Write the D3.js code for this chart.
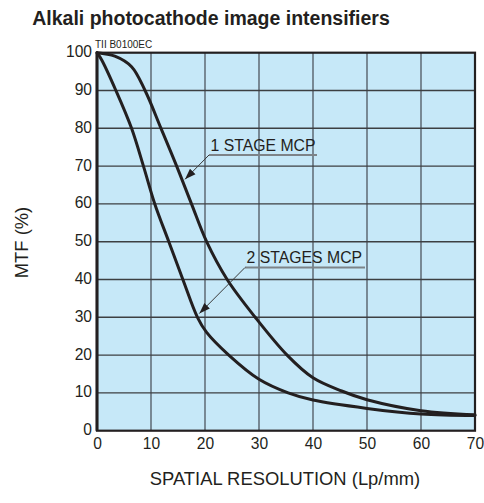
<!DOCTYPE html>
<html>
<head>
<meta charset="utf-8">
<script src="https://cdn.jsdelivr.net/npm/d3@7"></script>
<style>
  html, body { margin: 0; padding: 0; background: #fff; }
  svg { display: block; font-family: "Liberation Sans", Arial, Helvetica, sans-serif; }
</style>
</head>
<body>
<svg id="chart" width="484" height="503"></svg>
<script>
// MTF curves of alkali photocathode image intensifiers
const xTicks = [0, 10, 20, 30, 40, 50, 60, 70];
const yTicks = [0, 10, 20, 30, 40, 50, 60, 70, 80, 90, 100];

const oneStageRes = [0, 3.3, 6.4, 8.9, 11.85, 14.75, 17.5, 20.3, 24.1, 29.3, 35.2, 40, 45.3, 50, 60, 70];
const oneStageMtf = [100, 99.1, 96.3, 90, 80, 70, 60, 50, 40, 30, 20, 14, 10.5, 8.2, 5.3, 4.2];

const twoStageRes = [0, 0.9, 3.5, 6.4, 8.6, 10.7, 13.3, 15.9, 18.6, 20.3, 24.4, 30, 35.4, 40, 50, 60, 70];
const twoStageMtf = [100, 98, 90, 80, 70, 60, 50, 40, 30, 26, 20, 13.6, 10, 8.1, 5.9, 4.4, 4.0];

const seriesLabels = ["1 STAGE MCP", "2 STAGES MCP"];

const svg = d3.select("#chart");
const plotL = 97, plotR = 475, plotT = 52.7, plotB = 430.7;

const x = d3.scaleLinear().domain([0, 70]).range([plotL, plotR]);
const y = d3.scaleLinear().domain([0, 100]).range([plotB, plotT]);

// plot background
svg.append("rect")
  .attr("x", plotL).attr("y", plotT)
  .attr("width", plotR - plotL).attr("height", plotB - plotT)
  .attr("fill", "#c6e8f8");

// grid
const grid = svg.append("g");
grid.selectAll("line.v").data(xTicks.slice(1, -1)).join("line")
  .attr("x1", d => x(d)).attr("x2", d => x(d))
  .attr("y1", plotT).attr("y2", plotB)
  .attr("stroke", "#56606a").attr("stroke-width", 1.4);
grid.selectAll("line.h").data(yTicks.slice(1, -1)).join("line")
  .attr("x1", plotL).attr("x2", plotR)
  .attr("y1", d => y(d)).attr("y2", d => y(d))
  .attr("stroke", "#3c3f42").attr("stroke-width", 1.4);

// frame
svg.append("rect")
  .attr("x", plotL).attr("y", plotT)
  .attr("width", plotR - plotL).attr("height", plotB - plotT)
  .attr("fill", "none").attr("stroke", "#231f20").attr("stroke-width", 2.2);
svg.append("line").attr("x1", plotL).attr("x2", plotL).attr("y1", plotT).attr("y2", plotB)
  .attr("stroke", "#231f20").attr("stroke-width", 3);

// axes (labels only)
const xAxis = d3.axisBottom(x).tickValues(xTicks).tickSize(0).tickPadding(7);
const gx = svg.append("g").attr("transform", `translate(0,${plotB})`).call(xAxis);
gx.select(".domain").remove();
gx.selectAll("text").attr("font-size", 15.6).attr("fill", "#231f20")
  .attr("font-family", "Liberation Sans, Arial, sans-serif");

const yAxis = d3.axisLeft(y).tickValues(yTicks).tickSize(0).tickPadding(5);
const gy = svg.append("g").attr("transform", `translate(${plotL},0)`).call(yAxis);
gy.select(".domain").remove();
gy.selectAll("text").attr("font-size", 15.6).attr("fill", "#231f20")
  .attr("font-family", "Liberation Sans, Arial, sans-serif")
  .attr("dy", "0.25em");

// curves
const line = d3.line().x(d => x(d[0])).y(d => y(d[1])).curve(d3.curveCatmullRom.alpha(0.5));
const series = [
  d3.zip(oneStageRes, oneStageMtf),
  d3.zip(twoStageRes, twoStageMtf)
];
svg.append("g").selectAll("path").data(series).join("path")
  .attr("d", line)
  .attr("fill", "none").attr("stroke", "#231f20").attr("stroke-width", 3)
  .attr("stroke-linecap", "round");

// arrow markers
svg.append("defs").append("marker")
  .attr("id", "head").attr("viewBox", "0 0 10 10")
  .attr("refX", 10).attr("refY", 5)
  .attr("markerWidth", 11).attr("markerHeight", 11)
  .attr("markerUnits", "userSpaceOnUse")
  .attr("orient", "auto")
  .append("path").attr("d", "M0,1.5 L10,5 L0,8.5 Z").attr("fill", "#231f20");

// callouts: label position, underline and arrow tip on the curve
const callouts = [
  { label: seriesLabels[0], tx: 210.5, ty: 150.5, uy: 155, ux2: 317, tipX: x(16.3), tipY: y(66.5) },
  { label: seriesLabels[1], tx: 246.5, ty: 263, uy: 267.5, ux2: 365, tipX: x(18.95), tipY: y(31) }
];
const cg = svg.append("g");
callouts.forEach(c => {
  cg.append("text").attr("x", c.tx).attr("y", c.ty)
    .attr("font-size", 15.8).attr("fill", "#231f20").text(c.label);
  cg.append("line").attr("x1", c.tx - 1.5).attr("x2", c.ux2)
    .attr("y1", c.uy).attr("y2", c.uy)
    .attr("stroke", "#7d8388").attr("stroke-width", 2);
  cg.append("line").attr("x1", c.tx - 1.5).attr("y1", c.uy)
    .attr("x2", c.tipX).attr("y2", c.tipY)
    .attr("stroke", "#3a3a3a").attr("stroke-width", 1)
    .attr("marker-end", "url(#head)");
});

// titles
svg.append("text").attr("x", 211).attr("y", 25)
  .attr("text-anchor", "middle").attr("font-size", 19.5).attr("font-weight", "bold")
  .attr("fill", "#231f20").text("Alkali photocathode image intensifiers");

svg.append("text").attr("x", 95).attr("y", 47.5)
  .attr("font-size", 10).attr("fill", "#231f20").text("TII B0100EC");

svg.append("text").attr("x", 285).attr("y", 485)
  .attr("text-anchor", "middle").attr("font-size", 18.4)
  .attr("fill", "#231f20").text("SPATIAL RESOLUTION (Lp/mm)");

svg.append("text").attr("transform", "translate(28.3,242.5) rotate(-90)")
  .attr("text-anchor", "middle").attr("font-size", 18.4)
  .attr("fill", "#231f20").text("MTF (%)");
</script>
</body>
</html>
